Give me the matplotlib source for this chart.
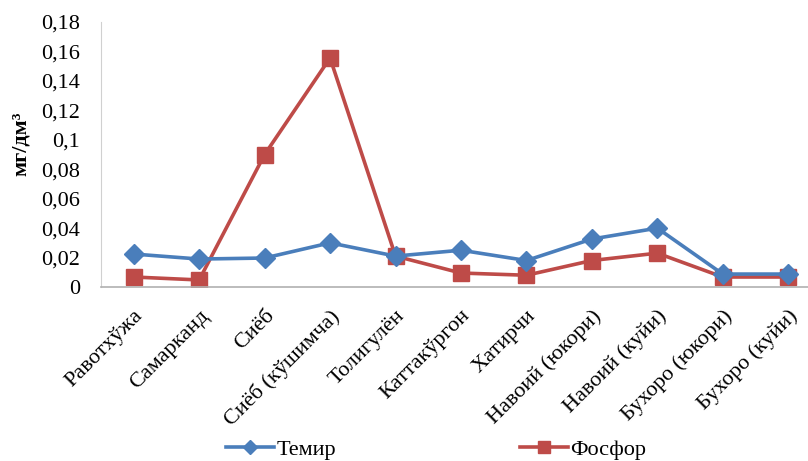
import matplotlib.pyplot as plt
import matplotlib.ticker as ticker
import numpy as np

plt.rcParams['font.family'] = ['Liberation Serif', 'DejaVu Serif']

# Sampling points along the river
stations = ['Равотхўжа', 'Самарканд', 'Сиёб', 'Сиёб (кўшимча)', 'Толигулён',
            'Каттакўргон', 'Хатирчи', 'Навоий (юкори)', 'Навоий (куйи)',
            'Бухоро (юкори)', 'Бухоро (куйи)']
temir = [0.0224, 0.019, 0.0197, 0.030, 0.021, 0.025, 0.018, 0.0326, 0.040, 0.0088, 0.0088]
fosfor = [0.0068, 0.0048, 0.090, 0.1556, 0.021, 0.0095, 0.008, 0.018, 0.023, 0.0068, 0.0068]
yticks = [0, 0.02, 0.04, 0.06, 0.08, 0.1, 0.12, 0.14, 0.16, 0.18]

fig = plt.figure(figsize=(8.08, 4.61), dpi=100)
ax = fig.add_axes([0.125, 0.3774, 0.891, 0.5748])

x = np.arange(len(stations))
ax.plot(x, temir, color='#4A7EBB', lw=2.6, marker='D', ms=10.5, label='Темир', zorder=3)
ax.plot(x, fosfor, color='#BE4B48', lw=2.6, marker='s', ms=11.5, label='Фосфор', zorder=2)

ax.set_xlim(-0.5, len(stations) - 0.5)
ax.set_ylim(0, 0.18)
ax.set_yticks(yticks)
ax.yaxis.set_major_formatter(ticker.FuncFormatter(lambda v, p: ('%g' % round(v, 2)).replace('.', ',')))
ax.set_xticks(x)
ax.set_xticklabels(stations, rotation=45, ha='right', va='top', rotation_mode='anchor')
ax.tick_params(axis='both', length=0, labelsize=16, colors='black')
ax.tick_params(axis='x', pad=14)
ax.tick_params(axis='y', pad=15)

for s in ['top', 'right']:
    ax.spines[s].set_visible(False)
ax.spines['left'].set_color('#d0d0d0')
ax.spines['bottom'].set_color('#b0b0b0')
ax.spines['bottom'].set_linewidth(1.2)

ax.set_ylabel('мг/дм³', fontsize=16, fontweight='bold')
ax.yaxis.set_label_coords(-0.098, 0.54)

fig.legend(loc='center', bbox_to_anchor=(0.54, 0.024), ncol=2, frameon=False,
           fontsize=16, handlelength=2.15, handletextpad=0.1, columnspacing=8.3,
           markerscale=0.7)

fig.savefig('out.png', dpi=100)
